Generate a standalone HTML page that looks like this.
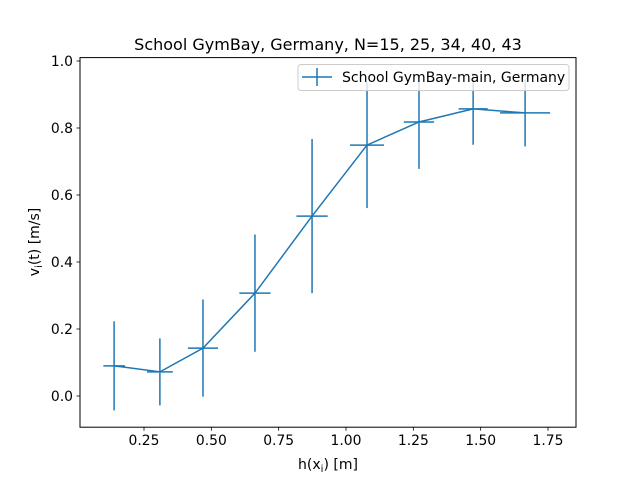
<!DOCTYPE html>
<html><head><meta charset="utf-8"><style>
body{margin:0;background:#fff}
svg{display:block;font-family:"DejaVu Sans","Liberation Sans",sans-serif}
</style></head><body>
<svg id="chart" width="640" height="480" xmlns="http://www.w3.org/2000/svg">
<rect width="640" height="480" fill="#fff"/>
<text x="328" y="50" text-anchor="middle" font-size="16">School GymBay, Germany, N=15, 25, 34, 40, 43</text>
<g id="marks"></g>
<rect x="80" y="57.6" width="496" height="369.6" fill="none" stroke="#000" stroke-width="1"/>
<g id="ticks"></g>
<text x="328" y="469" text-anchor="middle" font-size="14">h(x<tspan font-size="10" dy="3">i</tspan><tspan dy="-3">) [m]</tspan></text>
<text transform="translate(39,242) rotate(-90)" text-anchor="middle" font-size="14">v<tspan font-size="10" dy="3">i</tspan><tspan dy="-3">(t) [m/s]</tspan></text>
<g>
<rect x="298" y="64.5" width="271" height="26" rx="3" fill="#fff" fill-opacity="0.8" stroke="#ccc" stroke-width="1"/>
<line x1="302" y1="77" x2="332" y2="77" stroke="#1f77b4" stroke-width="1.5"/>
<line x1="317" y1="68" x2="317" y2="86" stroke="#1f77b4" stroke-width="1.5"/>
<text x="342" y="82" font-size="14">School GymBay-main, Germany</text>
</g>
</svg>
<script>
const xVals=[0.139,0.309,0.469,0.662,0.874,1.078,1.271,1.472,1.665];
const yVals=[0.090,0.072,0.143,0.307,0.537,0.749,0.818,0.857,0.845];
const yErr=[0.133,0.100,0.145,0.175,0.230,0.188,0.140,0.107,0.100];
const xErr=[0.040,0.048,0.056,0.058,0.058,0.063,0.056,0.054,0.093];
const xTicks=[0.25,0.5,0.75,1.0,1.25,1.5,1.75];
const xTickLabels=["0.25","0.50","0.75","1.00","1.25","1.50","1.75"];
const yTicks=[0,0.2,0.4,0.6,0.8,1.0];
const yTickLabels=["0.0","0.2","0.4","0.6","0.8","1.0"];
const X=v=>144+(v-0.25)*269.33;
const Y=v=>396-v*335;
const NS="http://www.w3.org/2000/svg";
const marks=document.getElementById('marks'),ticks=document.getElementById('ticks');
function mk(tag,parent,attrs){const e=document.createElementNS(NS,tag);for(const k in attrs)e.setAttribute(k,attrs[k]);parent.appendChild(e);return e;}
const line=mk('polyline',marks,{points:xVals.map((x,i)=>X(x)+','+Y(yVals[i])).join(' '),fill:'none',stroke:'#1f77b4','stroke-width':1.5});


xVals.forEach((x,i)=>{
 const v=mk('line',marks,{x1:X(x),x2:X(x),y1:Y(yVals[i]-yErr[i]),y2:Y(yVals[i]+yErr[i]),stroke:'#1f77b4','stroke-width':1.5});
 
 
 const h=mk('line',marks,{x1:X(x-xErr[i]),x2:X(x+xErr[i]),y1:Y(yVals[i]),y2:Y(yVals[i]),stroke:'#1f77b4','stroke-width':1.5});
 
 
});
xTicks.forEach((t,i)=>{
 const tk=mk('line',ticks,{x1:X(t),x2:X(t),y1:427.2,y2:430.7,stroke:'#000','stroke-width':0.8});
 
 
 const tl=mk('text',ticks,{x:X(t),y:445,'text-anchor':'middle','font-size':13.9});
 tl.textContent=xTickLabels[i];
 
 
});
yTicks.forEach((t,i)=>{
 const tk=mk('line',ticks,{x1:76.5,x2:80,y1:Y(t),y2:Y(t),stroke:'#000','stroke-width':0.8});
 
 
 const tl=mk('text',ticks,{x:73,y:Y(t)+5,'text-anchor':'end','font-size':13.9});
 tl.textContent=yTickLabels[i];
 
 
});
</script>
</body></html>
